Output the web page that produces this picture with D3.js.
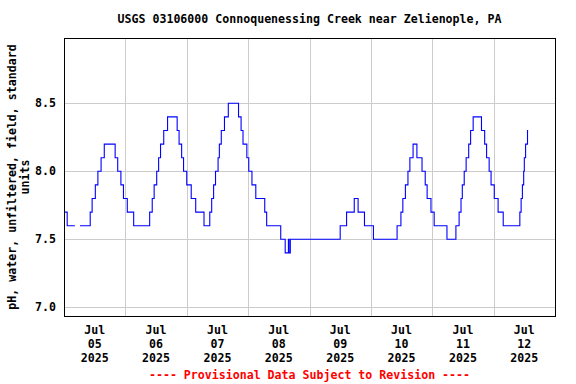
<!DOCTYPE html>
<html>
<head>
<meta charset="utf-8">
<script src="https://cdn.jsdelivr.net/npm/d3@7"></script>
<style>
  body { margin: 0; background: #fff; }
  svg { display: block; }
  text { font-family: "DejaVu Sans Mono", "Liberation Mono", monospace; font-weight: bold; font-size: 11.6px; }
</style>
</head>
<body>
<svg id="chart" width="576" height="384"></svg>
<script>
const title = 'USGS 03106000 Connoquenessing Creek near Zelienople, PA'
const yLabel = ['pH, water, unfiltered, field, standard', 'units']
const footer = '---- Provisional Data Subject to Revision ----'
const yTicks = [7.0, 7.5, 8.0, 8.5]
const dayLabels = ['2025-07-05', '2025-07-06', '2025-07-07', '2025-07-08', '2025-07-09', '2025-07-10', '2025-07-11', '2025-07-12']

// change points of the 15-minute record (value holds until next time); null = gap
const times = [
  '07-05 00:15', '07-05 01:15', '07-05 04:15', '07-05 04:30', '07-05 06:15', '07-05 10:15', '07-05 11:00',
  '07-05 12:15', '07-05 13:15', '07-05 14:30', '07-05 15:45', '07-05 20:00', '07-05 21:00', '07-05 22:15',
  '07-05 23:15', '07-06 00:45', '07-06 03:15', '07-06 09:30', '07-06 10:30', '07-06 11:15', '07-06 12:15',
  '07-06 13:00', '07-06 13:45', '07-06 15:00', '07-06 16:30', '07-06 20:15', '07-06 21:00', '07-06 22:00',
  '07-06 22:45', '07-07 00:00', '07-07 01:45', '07-07 03:30', '07-07 06:45', '07-07 09:00', '07-07 09:45',
  '07-07 10:30', '07-07 11:15', '07-07 12:15', '07-07 12:45', '07-07 13:30', '07-07 14:45', '07-07 16:15',
  '07-07 20:15', '07-07 21:15', '07-07 22:00', '07-07 23:30', '07-08 00:15', '07-08 01:30', '07-08 03:00',
  '07-08 06:30', '07-08 07:15', '07-08 12:45', '07-08 14:30', '07-08 15:45', '07-08 16:00', '07-08 16:30',
  '07-09 12:00', '07-09 14:30', '07-09 17:30', '07-09 19:00', '07-09 21:30', '07-10 01:00', '07-10 10:15',
  '07-10 11:45', '07-10 12:30', '07-10 13:30', '07-10 14:30', '07-10 15:15', '07-10 16:30', '07-10 18:00',
  '07-10 20:00', '07-10 21:15', '07-10 22:00', '07-10 23:30', '07-11 00:45', '07-11 05:45', '07-11 09:15',
  '07-11 10:30', '07-11 11:15', '07-11 11:45', '07-11 12:30', '07-11 13:15', '07-11 14:15', '07-11 15:00',
  '07-11 16:00', '07-11 19:15', '07-11 20:30', '07-11 21:15', '07-11 22:15', '07-11 23:00', '07-12 00:15',
  '07-12 01:45', '07-12 03:45', '07-12 10:15', '07-12 10:45', '07-12 11:15', '07-12 11:45', '07-12 12:00',
  '07-12 12:30', '07-12 13:15', '07-12 13:30'
]
const ph = [
  7.7, 7.6, 7.6, null, 7.6, 7.7, 7.8,
  7.9, 8.0, 8.1, 8.2, 8.1, 8.0, 7.9,
  7.8, 7.7, 7.6, 7.7, 7.8, 7.9, 8.0,
  8.1, 8.2, 8.3, 8.4, 8.3, 8.2, 8.1,
  8.0, 7.9, 7.8, 7.7, 7.6, 7.7, 7.8,
  7.9, 8.0, 8.1, 8.2, 8.3, 8.4, 8.5,
  8.4, 8.3, 8.2, 8.1, 8.0, 7.9, 7.8,
  7.7, 7.6, 7.5, 7.4, 7.5, 7.4, 7.5,
  7.6, 7.7, 7.8, 7.7, 7.6, 7.5, 7.6,
  7.7, 7.8, 7.9, 8.0, 8.1, 8.2, 8.1,
  8.0, 7.9, 7.8, 7.7, 7.6, 7.5, 7.6,
  7.7, 7.8, 7.9, 8.0, 8.1, 8.2, 8.3,
  8.4, 8.3, 8.2, 8.1, 8.0, 7.9, 7.8,
  7.7, 7.6, 7.7, 7.8, 7.9, 8.0, 8.1,
  8.2, 8.3, 8.3
]

const margin = { top: 38, right: 21, bottom: 68, left: 64 }
const svg = d3.select('#chart')
const width = +svg.attr('width')
const height = +svg.attr('height')

const parseTime = d3.utcParse('%Y-%m-%d %H:%M')
const parseDay = d3.utcParse('%Y-%m-%d')
const data = times.map((t, i) => ({ date: parseTime('2025-' + t), value: ph[i] }))
const days = dayLabels.map(parseDay)

// scales work in page coordinates so labels need no group offset
const x = d3.scaleUtc()
  .domain([days[0], d3.utcDay.offset(days[days.length - 1], 1)])
  .range([margin.left, width - margin.right])
const y = d3.scaleLinear()
  .domain([6.936, 8.98])
  .range([height - margin.bottom, margin.top])
const plotBottom = height - margin.bottom

// grid
svg.append('g')
  .selectAll('line.hgrid').data(yTicks).join('line')
  .attr('class', 'hgrid')
  .attr('x1', margin.left).attr('x2', width - margin.right)
  .attr('y1', d => Math.round(y(d)) + 0.5).attr('y2', d => Math.round(y(d)) + 0.5)
  .attr('stroke', '#cccccc')
svg.append('g')
  .selectAll('line.vgrid').data(days.slice(1)).join('line')
  .attr('class', 'vgrid')
  .attr('x1', d => Math.round(x(d)) + 0.5).attr('x2', d => Math.round(x(d)) + 0.5)
  .attr('y1', margin.top).attr('y2', plotBottom)
  .attr('stroke', '#cccccc')

// y tick labels
svg.append('g')
  .selectAll('text').data(yTicks).join('text')
  .attr('x', margin.left - 8)
  .attr('y', d => y(d))
  .attr('dy', '0.35em')
  .attr('text-anchor', 'end')
  .text(d3.format('.1f'))

// x labels: month / day / year centred on each day
const xFormats = [d3.utcFormat('%b'), d3.utcFormat('%d'), d3.utcFormat('%Y')]
const xLab = svg.append('g')
xFormats.forEach((fmt, i) => {
  xLab.selectAll(`text.xl${i}`).data(days).join('text')
    .attr('class', `xl${i}`)
    .attr('text-anchor', 'middle')
    .attr('x', d => x(d3.utcHour.offset(d, 12)))
    .attr('y', plotBottom + 18 + i * 14)
    .text(fmt)
})

// data line
const line = d3.line()
  .defined(d => d.value != null)
  .x(d => x(d.date))
  .y(d => y(d.value))
  .curve(d3.curveStepAfter)
svg.append('path')
  .datum(data)
  .attr('fill', 'none')
  .attr('stroke', '#0000ff')
  .attr('stroke-width', 1.1)
  .attr('d', line)

// frame
svg.append('rect')
  .attr('x', margin.left + 0.5).attr('y', margin.top + 0.5)
  .attr('width', width - margin.left - margin.right)
  .attr('height', plotBottom - margin.top)
  .attr('fill', 'none')
  .attr('stroke', '#000')

// titles
svg.append('text')
  .attr('x', (margin.left + width - margin.right) / 2)
  .attr('y', 23)
  .attr('text-anchor', 'middle')
  .text(title)

yLabel.forEach((s, i) => {
  svg.append('text')
    .attr('transform', `translate(${16 + i * 13},${(margin.top + plotBottom) / 2}) rotate(-90)`)
    .attr('text-anchor', 'middle')
    .text(s)
})

svg.append('text')
  .attr('x', (margin.left + width - margin.right) / 2)
  .attr('y', 379)
  .attr('text-anchor', 'middle')
  .attr('fill', '#ff0000')
  .text(footer)
</script>
</body>
</html>
